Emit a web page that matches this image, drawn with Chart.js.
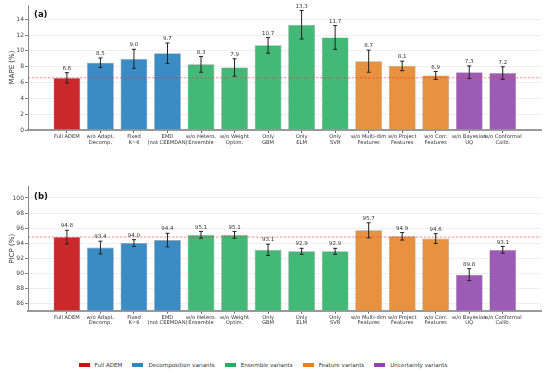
<!DOCTYPE html>
<html>
<head>
<meta charset="utf-8">
<script src="https://cdn.jsdelivr.net/npm/chart.js@4/dist/chart.umd.min.js"></script>
<style>
  body { margin: 0; background: #fff; font-family: "DejaVu Sans", sans-serif; }
  #wrap { position: relative; width: 550px; height: 374px; }
  canvas { position: absolute; left: 0; }
  #legend { position: absolute; top: 362px; left: -12px; width: 550px; display: flex; justify-content: center; gap: 10px; font-size: 5.6px; color: #333; }
  #legend span.item { display: flex; align-items: center; }
  #legend i { display: inline-block; width: 11px; height: 4.5px; margin-right: 5px; }
</style>
</head>
<body>
<div id="wrap">
  <canvas id="mapeChart" width="550" height="150" style="top:0"></canvas>
  <canvas id="picpChart" width="550" height="160" style="top:170px"></canvas>
  <div id="legend"></div>
</div>
<script>
const VARIANTS = [
    ['Full ADEM'], ['w/o Adapt.', 'Decomp.'], ['Fixed', 'K=6'], ['EMD', '(not CEEMDAN)'],
    ['w/o Hetero.', 'Ensemble'], ['w/o Weight', 'Optim.'], ['Only', 'GBM'], ['Only', 'ELM'],
    ['Only', 'SVR'], ['w/o Multi-dim', 'Features'], ['w/o Project', 'Features'], ['w/o Corr.', 'Features'],
    ['w/o Bayesian', 'UQ'], ['w/o Conformal', 'Calib.']
];
const GROUP = [0, 1, 1, 1, 2, 2, 2, 2, 2, 3, 3, 3, 4, 4];
const GROUP_NAMES = ['Full ADEM', 'Decomposition variants', 'Ensemble variants', 'Feature variants', 'Uncertainty variants'];

const MAPE = [6.6, 8.5, 9.0, 9.7, 8.3, 7.9, 10.7, 13.3, 11.7, 8.7, 8.1, 6.9, 7.3, 7.2];
const MAPE_ERR = [0.65, 0.6, 1.2, 1.3, 1.0, 1.1, 1.0, 1.8, 1.5, 1.4, 0.6, 0.5, 0.8, 0.8];
const PICP = [94.8, 93.4, 94.0, 94.4, 95.1, 95.1, 93.1, 92.9, 92.9, 95.7, 94.9, 94.6, 89.8, 93.1];
const PICP_ERR = [0.9, 0.85, 0.45, 0.9, 0.45, 0.45, 0.75, 0.4, 0.4, 1.0, 0.5, 0.65, 0.8, 0.45];
const MAPE_TICKS = [0, 2, 4, 6, 8, 10, 12, 14];
const PICP_TICKS = [86, 88, 90, 92, 94, 96, 98, 100];

const BAR_COLORS = ['#c9292b', '#3b8bc5', '#43b877', '#e8913e', '#9c5bb5'];
const SWATCH_COLORS = ['#cc1111', '#2e86c1', '#27ae60', '#e67e22', '#8e44ad'];

// error bars, value labels, reference line, panel letter
const annotate = {
    id: 'annotate',
    afterDatasetsDraw(chart, args, opts) {
        const { ctx, chartArea: a } = chart;
        const x = chart.scales.x, y = chart.scales.y;
        const vals = opts.values, errs = opts.errors;
        ctx.save();
        // reference line at Full ADEM value
        ctx.strokeStyle = 'rgba(230,60,60,0.6)';
        ctx.lineWidth = 0.9;
        ctx.setLineDash([2.5, 1.5]);
        const ry = y.getPixelForValue(vals[0]);
        ctx.beginPath(); ctx.moveTo(a.left, ry); ctx.lineTo(a.right, ry); ctx.stroke();
        ctx.setLineDash([]);
        ctx.strokeStyle = '#222';
        ctx.lineWidth = 1;
        ctx.fillStyle = '#333';
        ctx.font = '5.5px "DejaVu Sans"';
        ctx.textAlign = 'center';
        ctx.textBaseline = 'bottom';
        vals.forEach((v, i) => {
            const px = x.getPixelForValue(i);
            const top = y.getPixelForValue(v + errs[i]);
            const bot = y.getPixelForValue(v - errs[i]);
            ctx.beginPath();
            ctx.moveTo(px, top); ctx.lineTo(px, bot);
            ctx.moveTo(px - 2, top); ctx.lineTo(px + 2, top);
            ctx.moveTo(px - 2, bot); ctx.lineTo(px + 2, bot);
            ctx.stroke();
            ctx.fillText(v.toFixed(1), px, top - 1.5);
        });
        ctx.fillStyle = '#111';
        ctx.font = 'bold 8.5px "DejaVu Sans"';
        ctx.textAlign = 'left';
        ctx.textBaseline = 'middle';
        ctx.fillText(opts.letter, a.left + 6, a.top + 10);
        ctx.restore();
    }
};

function makeChart(id, values, errors, ticks, yMin, yMax, title, letter, padTop, xHeight) {
    return new Chart(document.getElementById(id), {
        type: 'bar',
        data: {
            datasets: [{
                data: values.map((v, i) => ({ x: i, y: v })),
                backgroundColor: GROUP.map(g => BAR_COLORS[g]),
                borderColor: 'rgba(40,40,40,0.45)',
                borderWidth: 0.6,
                barPercentage: 0.8,
                categoryPercentage: 1,
                base: yMin
            }]
        },
        options: {
            responsive: false,
            devicePixelRatio: 1,
            animation: false,
            layout: { padding: { top: padTop, right: 9, left: 0, bottom: 0 } },
            plugins: {
                legend: { display: false },
                tooltip: { enabled: false },
                annotate: { values, errors, letter }
            },
            scales: {
                x: {
                    type: 'linear',
                    offset: false,
                    min: -1.16,
                    max: 14.14,
                    afterBuildTicks: s => { s.ticks = VARIANTS.map((_, i) => ({ value: i })); },
                    afterFit: s => { s.height = xHeight; },
                    ticks: {
                        autoSkip: false, maxRotation: 0, padding: 1,
                        font: { family: 'DejaVu Sans', size: 5.2, lineHeight: 1.05 },
                        color: '#333',
                        callback: v => VARIANTS[v]
                    },
                    grid: { offset: false, drawOnChartArea: false, tickLength: 3, tickColor: '#666' },
                    border: { color: '#9a9a9a', width: 2 }
                },
                y: {
                    min: yMin,
                    max: yMax,
                    afterBuildTicks: s => { s.ticks = ticks.map(t => ({ value: t })); },
                    afterFit: s => { s.width = 28; },
                    ticks: { padding: 1, font: { family: 'DejaVu Sans', size: 6 }, color: '#444' },
                    grid: { color: '#ececec', lineWidth: 0.8, tickLength: 3, tickColor: '#666' },
                    border: { color: '#888', width: 1 },
                    title: {
                        display: true, text: title, color: '#333',
                        font: { family: 'DejaVu Sans', size: 7 },
                        padding: { top: 8, bottom: 0 }
                    }
                }
            }
        },
        plugins: [annotate]
    });
}

makeChart('mapeChart', MAPE, MAPE_ERR, MAPE_TICKS, 0, 15.8, 'MAPE (%)', '(a)', 5, 20);
makeChart('picpChart', PICP, PICP_ERR, PICP_TICKS, 85, 101.5, 'PICP (%)', '(b)', 16.7, 19.3);

const legend = document.getElementById('legend');
GROUP_NAMES.forEach((name, g) => {
    const item = document.createElement('span');
    item.className = 'item';
    item.innerHTML = '<i style="background:' + SWATCH_COLORS[g] + '"></i>' + name;
    legend.appendChild(item);
});
</script>
</body>
</html>
